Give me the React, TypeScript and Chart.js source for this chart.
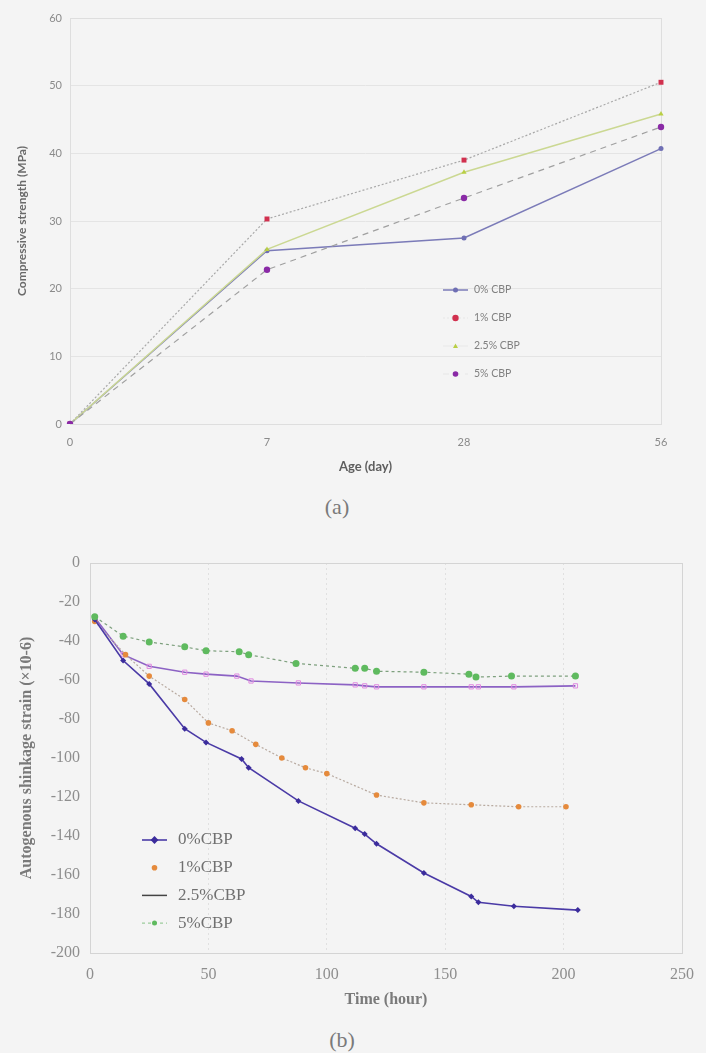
import React, { useEffect, useRef } from 'react';
import { Chart, registerables } from 'chart.js';

Chart.register(...registerables);

// ---------- Data (a) ----------
const ages = ['0', '7', '28', '56'];
const strength0 = [0, 25.6, 27.5, 40.7];
const strength1 = [0, 30.3, 39.0, 50.5];
const strength25 = [0, 25.8, 37.2, 45.8];
const strength5 = [0, 22.8, 33.4, 43.9];
const legendA = ['0% CBP', '1% CBP', '2.5% CBP', '5% CBP'];
const yTicksA = [0, 10, 20, 30, 40, 50, 60];

// ---------- Data (b) ----------
const time0 = [2, 14, 25, 40, 49, 64, 67, 88, 112, 116, 121, 141, 161, 164, 179, 206];
const strain0 = [-29, -50, -62, -85, -92, -100.5, -105, -122, -136, -139, -144, -159, -171, -174, -176, -178];
const time1 = [2, 15, 25, 40, 50, 60, 70, 81, 91, 100, 121, 141, 161, 181, 201];
const strain1 = [-30, -47, -58, -70, -82, -86, -93, -100, -105, -108, -119, -123, -124, -125, -125];
const time25 = [2, 14, 25, 40, 49, 62, 68, 88, 112, 116, 121, 141, 161, 164, 179, 205];
const strain25 = [-28, -47, -53, -56, -57, -58, -60.5, -61.5, -62.5, -63, -63.5, -63.5, -63.5, -63.5, -63.5, -63];
const time5 = [2, 14, 25, 40, 49, 63, 67, 87, 112, 116, 121, 141, 160, 163, 178, 205];
const strain5 = [-27.5, -37.5, -40.5, -43, -45, -45.5, -47, -51.5, -54, -54, -55.5, -56, -57, -58.5, -58, -58];
const legendB = ['0%CBP', '1%CBP', '2.5%CBP', '5%CBP'];

const toPoints = (xs: number[], ys: number[]) => xs.map((x, i) => ({ x, y: ys[i] }));

function drawMarker(ctx: CanvasRenderingContext2D, style: string, x: number, y: number, r: number, fill: string, stroke: string, bw: number) {
  ctx.save();
  ctx.beginPath();
  if (style === 'rect') {
    ctx.rect(x - r, y - r, 2 * r, 2 * r);
  } else if (style === 'rectRot') {
    ctx.moveTo(x, y - r * 1.3);
    ctx.lineTo(x + r * 1.3, y);
    ctx.lineTo(x, y + r * 1.3);
    ctx.lineTo(x - r * 1.3, y);
    ctx.closePath();
  } else if (style === 'triangle') {
    ctx.moveTo(x, y - r);
    ctx.lineTo(x + r, y + r * 0.8);
    ctx.lineTo(x - r, y + r * 0.8);
    ctx.closePath();
  } else {
    ctx.arc(x, y, r, 0, Math.PI * 2);
  }
  ctx.fillStyle = fill;
  ctx.fill();
  if (bw > 0) {
    ctx.strokeStyle = stroke;
    ctx.lineWidth = bw;
    ctx.stroke();
  }
  ctx.restore();
}

const insideLegend = {
  id: 'insideLegend',
  afterDraw(chart: any, _args: any, opts: any) {
    const ctx: CanvasRenderingContext2D = chart.ctx;
    chart.data.datasets.forEach((ds: any, i: number) => {
      const y = opts.y + i * opts.rowH;
      const x = opts.x;
      ctx.save();
      if (ds.legendLine !== false) {
        ctx.beginPath();
        ctx.strokeStyle = ds.legendLineColor || ds.borderColor;
        ctx.lineWidth = ds.legendLineWidth || ds.borderWidth || 1;
        ctx.setLineDash(ds.borderDash || []);
        ctx.moveTo(x, y);
        ctx.lineTo(x + opts.sampleW, y);
        ctx.stroke();
        ctx.setLineDash([]);
      }
      if (ds.legendMarker !== false) {
        drawMarker(ctx, ds.legendPointStyle || ds.pointStyle || 'circle', x + opts.sampleW / 2, y, ds.legendPointRadius || ds.pointRadius || 3, ds.pointBackgroundColor, ds.pointBorderColor, ds.pointBorderWidth || 0);
      }
      ctx.fillStyle = opts.color;
      ctx.font = opts.font;
      ctx.textBaseline = 'middle';
      ctx.textAlign = 'left';
      ctx.fillText(opts.labels[i], x + opts.sampleW + opts.gap, y);
      ctx.restore();
    });
  },
};

const frame = {
  id: 'frame',
  beforeDatasetsDraw(chart: any, _args: any, opts: any) {
    const { ctx, chartArea } = chart;
    ctx.save();
    ctx.strokeStyle = opts.color;
    ctx.lineWidth = opts.width || 1;
    ctx.strokeRect(chartArea.left + 0.5, chartArea.top + 0.5, chartArea.right - chartArea.left, chartArea.bottom - chartArea.top);
    ctx.restore();
  },
};

function ChartA() {
  const ref = useRef<HTMLCanvasElement | null>(null);
  useEffect(() => {
    if (!ref.current) return;
    const tickFont = { family: 'Lato', size: 11 };
    const chart = new Chart(ref.current, {
      type: 'line',
      data: {
        labels: ages,
        datasets: [
          {
            data: strength0, borderColor: '#7b7bb8', borderWidth: 1.5, pointStyle: 'circle', pointRadius: 2.5,
            pointBackgroundColor: '#6f6fb4', pointBorderColor: '#6f6fb4', pointBorderWidth: 0, tension: 0, order: 4,
          },
          {
            data: strength1, borderColor: '#a8a8a8', borderWidth: 1.2, borderDash: [2, 2], pointStyle: 'rect', pointRadius: 3.5,
            pointBackgroundColor: '#d1304e', pointBorderColor: '#d1304e', pointBorderWidth: 0, tension: 0, order: 3,
            legendLineColor: '#e6e6e6', legendPointStyle: 'circle', legendPointRadius: 3.2,
          },
          {
            data: strength25, borderColor: '#cbd892', borderWidth: 1.5, pointStyle: 'triangle', pointRadius: 3,
            pointBackgroundColor: '#b9cf44', pointBorderColor: '#b9cf44', pointBorderWidth: 0, tension: 0, order: 2,
            legendLineColor: '#ececec', legendPointRadius: 2.5,
          },
          {
            data: strength5, borderColor: '#a0a0a0', borderWidth: 1.2, borderDash: [6, 5], pointStyle: 'circle', pointRadius: 3.2,
            pointBackgroundColor: '#8a2aa6', pointBorderColor: '#8a2aa6', pointBorderWidth: 0, tension: 0, order: 1,
            legendLineColor: '#e6e6e6', legendPointRadius: 2.8,
          },
        ] as any,
      },
      options: {
        responsive: false,
        animation: false,
        layout: { padding: { top: 18, right: 45, left: 0, bottom: 0 } },
        plugins: {
          legend: { display: false },
          tooltip: { enabled: false },
          insideLegend: { x: 443, y: 290, rowH: 28, sampleW: 25, gap: 6, color: '#808080', font: '10.5px Lato', labels: legendA },
          frame: { color: '#dedede' },
        } as any,
        scales: {
          x: {
            type: 'category',
            offset: false,
            grid: { display: false, drawTicks: false },
            border: { display: false },
            ticks: { padding: 12, color: '#8a8a8a', font: tickFont },
            title: { display: true, text: 'Age (day)', color: '#5e5e5e', font: { family: 'Lato', size: 13, weight: 'bold' }, padding: { top: 0, bottom: 5 } },
            afterFit: (s: any) => { s.height = 56; },
          },
          y: {
            min: 0,
            max: 60,
            afterBuildTicks: (s: any) => { s.ticks = yTicksA.map((v) => ({ value: v })); },
            grid: { color: '#e4e4e4', drawTicks: false },
            border: { display: false },
            ticks: { padding: 8, color: '#8a8a8a', font: tickFont },
            title: { display: true, text: 'Compressive strength (MPa)', color: '#6a6a6a', font: { family: 'Lato', size: 12, weight: 'bold' }, padding: { top: 15, bottom: 0 } },
            afterFit: (s: any) => { s.width = 70; },
          },
        },
      } as any,
      plugins: [insideLegend, frame],
    });
    return () => chart.destroy();
  }, []);
  return <canvas ref={ref} width={706} height={480} style={{ position: 'absolute', left: 0, top: 0, width: 706, height: 480 }} />;
}

function ChartB() {
  const ref = useRef<HTMLCanvasElement | null>(null);
  useEffect(() => {
    if (!ref.current) return;
    const tickFont = { family: 'Liberation Serif', size: 16 };
    const chart = new Chart(ref.current, {
      type: 'line',
      data: {
        datasets: [
          {
            data: toPoints(time0, strain0), borderColor: '#4a3aa6', borderWidth: 1.6, pointStyle: 'rectRot', pointRadius: 3,
            pointBackgroundColor: '#3b2c9c', pointBorderColor: '#3b2c9c', pointBorderWidth: 0, tension: 0, order: 1,
          },
          {
            data: toPoints(time1, strain1), borderColor: '#b8aaa0', borderWidth: 1.2, borderDash: [2, 2], pointStyle: 'circle', pointRadius: 2.8,
            pointBackgroundColor: '#e58a3c', pointBorderColor: '#e58a3c', pointBorderWidth: 0, tension: 0, order: 2,
            legendLine: false,
          },
          {
            data: toPoints(time25, strain25), borderColor: '#8c62c4', borderWidth: 1.6, pointStyle: 'rect', pointRadius: 3,
            pointBackgroundColor: 'rgba(255,255,255,0)', pointBorderColor: '#e08ae0', pointBorderWidth: 1, tension: 0, order: 3,
            legendLineColor: '#444444', legendLineWidth: 1.5, legendMarker: false,
          },
          {
            data: toPoints(time5, strain5), borderColor: '#7ea07e', borderWidth: 1.2, borderDash: [3, 3], pointStyle: 'circle', pointRadius: 3.5,
            pointBackgroundColor: '#5fba5f', pointBorderColor: '#5fba5f', pointBorderWidth: 0, tension: 0, order: 0,
            legendLineColor: '#9ccc9c', legendPointRadius: 2.5,
          },
        ] as any,
      },
      options: {
        responsive: false,
        animation: false,
        layout: { padding: { top: 43, right: 16, left: 0, bottom: 0 } },
        plugins: {
          legend: { display: false },
          tooltip: { enabled: false },
          insideLegend: { x: 142, y: 320, rowH: 27.7, sampleW: 25, gap: 11, color: '#707070', font: '17px "Liberation Serif"', labels: legendB },
          frame: { color: '#d4d4d4' },
        } as any,
        scales: {
          x: {
            type: 'linear',
            min: 0,
            max: 250,
            ticks: { stepSize: 50, padding: 12, color: '#8e8e8e', font: tickFont },
            grid: { color: '#e0e0e0', drawTicks: false },
            border: { display: false, dash: [2, 3] },
            title: { display: true, text: 'Time (hour)', color: '#7a7a7a', font: { family: 'Liberation Serif', size: 16, weight: 'bold' }, padding: { top: 0, bottom: 11 } },
            afterFit: (s: any) => { s.height = 67; },
          },
          y: {
            type: 'linear',
            min: -200,
            max: 0,
            ticks: { stepSize: 20, padding: 10, color: '#8e8e8e', font: tickFont },
            grid: { display: false, drawTicks: false },
            border: { display: false },
            title: { display: true, text: 'Autogenous shinkage strain (×10-6)', color: '#7a7a7a', font: { family: 'Liberation Serif', size: 16, weight: 'bold' }, padding: { top: 17, bottom: 0 } },
            afterFit: (s: any) => { s.width = 90; },
          },
        },
      } as any,
      plugins: [insideLegend, frame],
    });
    return () => chart.destroy();
  }, []);
  return <canvas ref={ref} width={706} height={500} style={{ position: 'absolute', left: 0, top: 520, width: 706, height: 500 }} />;
}

export default function App() {
  const caption: React.CSSProperties = {
    position: 'absolute',
    fontFamily: '"Liberation Serif", serif',
    fontSize: 22,
    color: '#7a7a7a',
    transform: 'translate(-50%, -50%)',
    lineHeight: 1,
    whiteSpace: 'nowrap',
  };
  return (
    <div style={{ position: 'absolute', left: 0, top: 0, width: 706, height: 1053, background: '#f4f4f4', overflow: 'hidden' }}>
      <ChartA />
      <div style={{ ...caption, left: 337, top: 507 }}>(a)</div>
      <ChartB />
      <div style={{ ...caption, left: 342, top: 1040 }}>(b)</div>
    </div>
  );
}
